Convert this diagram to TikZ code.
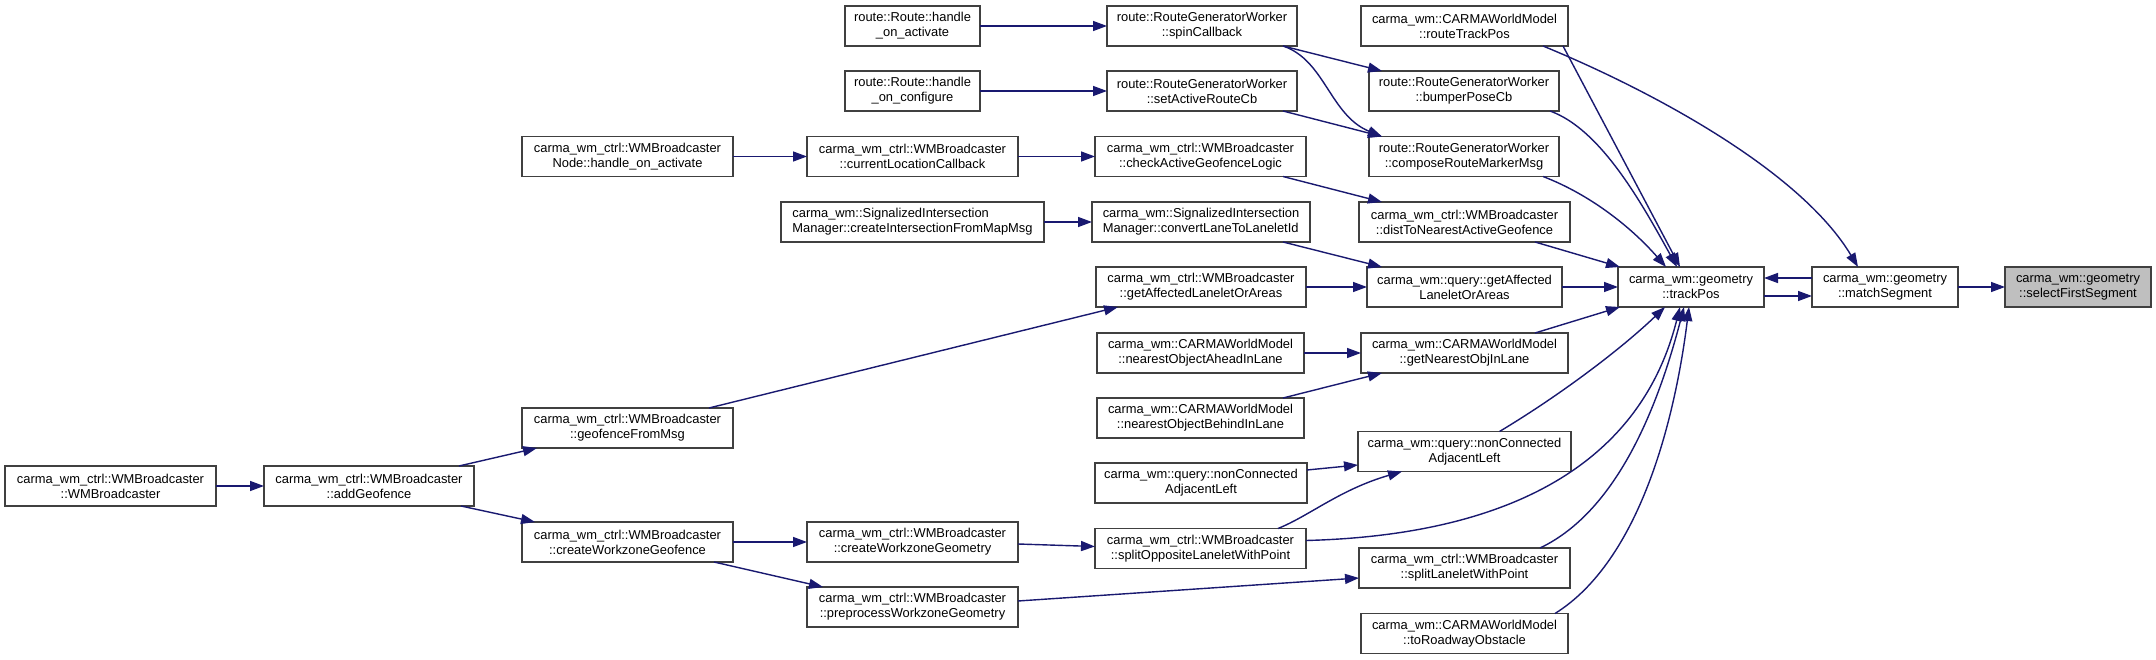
\documentclass[tikz,border=0pt]{standalone}
\usepackage{fontspec}
\setmainfont{Liberation Sans}
\usetikzlibrary{arrows.meta,calc}
\definecolor{edgeblue}{HTML}{191970}
\definecolor{boxline}{HTML}{404040}
\definecolor{selfill}{HTML}{BFBFBF}
\begin{document}
\begin{tikzpicture}[x=1pt,y=-1pt,
  fn/.style={draw=boxline, line width=1.6pt, fill=white, minimum height=40pt,
    inner sep=0pt, outer sep=0pt, align=center, font=\fontsize{12.9}{15}\selectfont},
  call/.style={draw=edgeblue, line width=1.4pt, -{Triangle[length=14pt,width=10pt]}}]
\fill[white] (0,0) rectangle (2156,660);
\useasboundingbox (0,0) rectangle (2156,660);

% column A/B
\node[fn, minimum width=211pt] (wmb) at (110.5,486) {carma\_wm\_ctrl::WMBroadcaster\\::WMBroadcaster};
\node[fn, minimum width=210pt] (addgeo) at (369,486) {carma\_wm\_ctrl::WMBroadcaster\\::addGeofence};
% column C
\node[fn, minimum width=211pt] (nodeact) at (627.5,156.5) {carma\_wm\_ctrl::WMBroadcaster\\Node::handle\_on\_activate};
\node[fn, minimum width=211pt] (geomsg) at (627.5,428) {carma\_wm\_ctrl::WMBroadcaster\\::geofenceFromMsg};
\node[fn, minimum width=211pt] (cwgeofence) at (627.5,542) {carma\_wm\_ctrl::WMBroadcaster\\::createWorkzoneGeofence};
% column D
\node[fn, minimum width=135pt] (rhact) at (912.5,26) {route::Route::handle\\\_on\_activate};
\node[fn, minimum width=135pt] (rhconf) at (912.5,91) {route::Route::handle\\\_on\_configure};
\node[fn, minimum width=211pt] (curloc) at (912.5,156.5) {carma\_wm\_ctrl::WMBroadcaster\\::currentLocationCallback};
\node[fn, minimum width=263pt, align=left] (createint) at (912.5,222) {carma\_wm::SignalizedIntersection\\Manager::createIntersectionFromMapMsg};
\node[fn, minimum width=211pt] (cwgeom) at (912.5,542) {carma\_wm\_ctrl::WMBroadcaster\\::createWorkzoneGeometry};
\node[fn, minimum width=211pt] (prepro) at (912.5,607) {carma\_wm\_ctrl::WMBroadcaster\\::preprocessWorkzoneGeometry};
% column E
\node[fn, minimum width=190pt] (spin) at (1202,26) {route::RouteGeneratorWorker\\::spinCallback};
\node[fn, minimum width=190pt] (setact) at (1202,91) {route::RouteGeneratorWorker\\::setActiveRouteCb};
\node[fn, minimum width=211pt] (checkact) at (1200.5,156.5) {carma\_wm\_ctrl::WMBroadcaster\\::checkActiveGeofenceLogic};
\node[fn, minimum width=218pt, align=left] (convlane) at (1201,222) {carma\_wm::SignalizedIntersection\\Manager::convertLaneToLaneletId};
\node[fn, minimum width=210pt] (getaffw) at (1201,287) {carma\_wm\_ctrl::WMBroadcaster\\::getAffectedLaneletOrAreas};
\node[fn, minimum width=207pt] (nahead) at (1200.5,353) {carma\_wm::CARMAWorldModel\\::nearestObjectAheadInLane};
\node[fn, minimum width=207pt] (nbehind) at (1200.5,418) {carma\_wm::CARMAWorldModel\\::nearestObjectBehindInLane};
\node[fn, minimum width=212pt] (nonconL) at (1201,483) {carma\_wm::query::nonConnected\\AdjacentLeft};
\node[fn, minimum width=211pt] (splitopp) at (1200.5,548.5) {carma\_wm\_ctrl::WMBroadcaster\\::splitOppositeLaneletWithPoint};
% column F
\node[fn, minimum width=207pt] (rtp) at (1464.5,26) {carma\_wm::CARMAWorldModel\\::routeTrackPos};
\node[fn, minimum width=190pt] (bumper) at (1464,91) {route::RouteGeneratorWorker\\::bumperPoseCb};
\node[fn, minimum width=190pt] (compose) at (1464,156.5) {route::RouteGeneratorWorker\\::composeRouteMarkerMsg};
\node[fn, minimum width=211pt] (dist) at (1464.5,222) {carma\_wm\_ctrl::WMBroadcaster\\::distToNearestActiveGeofence};
\node[fn, minimum width=195pt] (getaffq) at (1464.5,287) {carma\_wm::query::getAffected\\LaneletOrAreas};
\node[fn, minimum width=207pt] (getnearest) at (1464.5,353) {carma\_wm::CARMAWorldModel\\::getNearestObjInLane};
\node[fn, minimum width=213pt] (nonconR) at (1464.5,451.5) {carma\_wm::query::nonConnected\\AdjacentLeft};
\node[fn, minimum width=211pt] (splitlan) at (1464.5,568) {carma\_wm\_ctrl::WMBroadcaster\\::splitLaneletWithPoint};
\node[fn, minimum width=207pt] (toroad) at (1464.5,633.5) {carma\_wm::CARMAWorldModel\\::toRoadwayObstacle};
% columns G H I
\node[fn, minimum width=146pt] (trackpos) at (1691,287) {carma\_wm::geometry\\::trackPos};
\node[fn, minimum width=146pt] (matchseg) at (1885,287) {carma\_wm::geometry\\::matchSegment};
\node[fn, minimum width=146pt, fill=selfill] (selfirst) at (2078,287) {carma\_wm::geometry\\::selectFirstSegment};

% edges
\draw[call] (rhact.east) -- (spin.west);
\draw[call] (rhconf.east) -- (setact.west);
\draw[call] (nodeact.east) -- (curloc.west);
\draw[call] (curloc.east) -- (checkact.west);
\draw[call] (createint.east) -- (convlane.west);
\draw[call] ($(spin.south east)+(-14,0)$) -- ($(bumper.north west)+(13,0)$);
\draw[call] ($(spin.south east)+(-14,0)$) .. controls +(42,14) and +(-52,-21) .. ($(compose.north west)+(13,0)$);
\draw[call] ($(setact.south east)+(-14,0)$) -- ($(compose.north west)+(13,0)$);
\draw[call] ($(checkact.south east)+(-23,0)$) -- ($(dist.north west)+(23,0)$);
\draw[call] ($(convlane.south east)+(-27,0)$) -- ($(getaffq.north west)+(15,0)$);
\draw[call] (getaffw.east) -- (getaffq.west);
\draw[call] (nahead.east) -- (getnearest.west);
\draw[call] ($(nbehind.north east)+(-21,0)$) -- ($(getnearest.south west)+(21,0)$);
\draw[call] ($(nonconL.east)+(0,-13)$) -- ($(nonconR.west)+(0,13.5)$);
\draw[call] ($(splitopp.north east)+(-28,0)$) .. controls +(32,-13) and +(-62,18) .. ($(nonconR.south west)+(44,0)$);
\draw[call] ($(splitopp.east)+(0,-8)$) .. controls +(194,-5) and +(-41,163) .. ($(trackpos.south)+(-11,0)$);
\draw[call] ($(cwgeom.east)+(0,2)$) -- ($(splitopp.west)+(0,-2)$);
\draw[call] ($(prepro.east)+(0,-6)$) -- ($(splitlan.west)+(0,10)$);
\draw[call] (cwgeofence.east) -- (cwgeom.west);
\draw[call] ($(cwgeofence.south east)+(-19,0)$) -- ($(prepro.north west)+(16,0)$);
\draw[call] ($(addgeo.north east)+(-15,0)$) -- ($(geomsg.south west)+(15,0)$);
\draw[call] ($(addgeo.south east)+(-13,0)$) -- ($(cwgeofence.north west)+(13,0)$);
\draw[call] (wmb.east) -- (addgeo.west);
\draw[call] ($(geomsg.north east)+(-24,0)$) -- ($(getaffw.south west)+(22,0)$);
\draw[call] (getaffq.east) -- (trackpos.west);
\draw[call] ($(dist.south east)+(-35,0)$) -- ($(trackpos.north west)+(2,0)$);
\draw[call] ($(getnearest.north east)+(-33,0)$) -- ($(trackpos.south west)+(2,0)$);
\draw[call] ($(rtp.south east)+(-5,0)$) -- ($(trackpos.north)+(-11,0)$);
\draw[call] ($(rtp.south east)+(-25,0)$) .. controls +(107,44) and +(-58,-97) .. ($(matchseg.north)+(-27,0)$);
\draw[call] ($(bumper.south east)+(-9,0)$) .. controls +(50,18) and +(-37,-67) .. ($(trackpos.north)+(-14,0)$);
\draw[call] ($(compose.south east)+(-16,0)$) .. controls +(47,18) and +(-35,-40) .. ($(trackpos.north)+(-25,0)$);
\draw[call] ($(nonconR.north)+(35,0)$) .. controls +(60,-36) and +(-45,43) .. ($(trackpos.south)+(-26,0)$);
\draw[call] ($(splitlan.north east)+(-30,0)$) .. controls +(80,-38) and +(-24,92) .. ($(trackpos.south)+(-7,0)$);
\draw[call] ($(toroad.north east)+(-13,0)$) .. controls +(85,-53) and +(-14,112) .. ($(trackpos.south)+(-2,0)$);
\draw[call] ($(trackpos.east)+(0,9)$) -- ($(matchseg.west)+(0,9)$);
\draw[call] ($(matchseg.west)+(0,-9)$) -- ($(trackpos.east)+(0,-9)$);
\draw[call] (matchseg.east) -- (selfirst.west);
\end{tikzpicture}
\end{document}
